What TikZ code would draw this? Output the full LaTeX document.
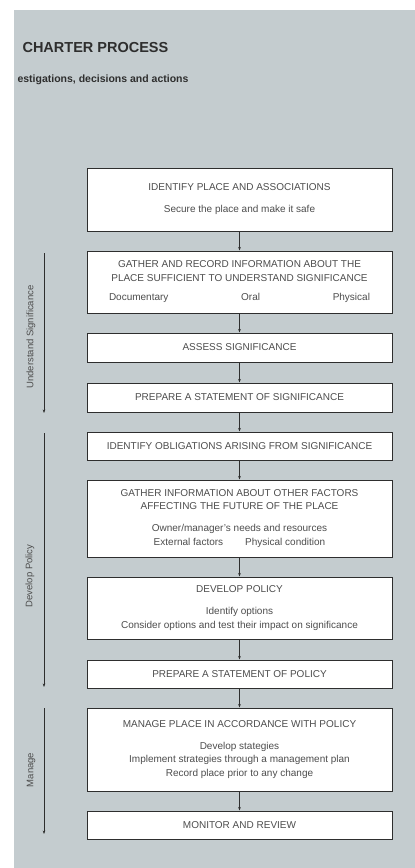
\documentclass[tikz,border=0pt]{standalone}
\usepackage{fontspec}
\setmainfont{Liberation Sans}
\usepackage{xcolor}
\definecolor{paper}{rgb}{0.77,0.80,0.81}
\definecolor{ink}{rgb}{0.18,0.18,0.18}
\usetikzlibrary{arrows.meta}
\usetikzlibrary{positioning}

\tikzset{
  stage/.style={draw=ink, line width=1pt, fill=white, text=ink!85,
    minimum width=305pt, align=center, inner sep=0pt,
    font=\fontsize{10}{13.5}\selectfont},
  flow/.style={draw=ink, line width=0.9pt, -{Stealth[length=3.5pt,width=2.6pt]}},
  phase/.style={draw=ink, line width=0.8pt, -{Stealth[length=3.5pt,width=2.6pt]}},
  phaselabel/.style={rotate=90, text=ink!85, font=\fontsize{9.5}{11}\selectfont}
}

\begin{document}
\begin{tikzpicture}[x=1pt,y=-1pt]

  \useasboundingbox (0,0) rectangle (415,868);
  \fill[white] (0,0) rectangle (415,868);
  \fill[paper] (14,10) rectangle (415,868);

% title
  \node[anchor=west, text=ink, font=\bfseries\fontsize{14.5}{16}\selectfont] (title) at (19,48) {CHARTER PROCESS};
  \node[anchor=west, text=ink, font=\bfseries\fontsize{10.5}{12}\selectfont] (subtitle) at (14,80) {estigations, decisions and actions};

% stages
  \node[stage, minimum height=63pt] (identify) at (239.5,199.5)
    {IDENTIFY PLACE AND ASSOCIATIONS\\[8.5pt] Secure the place and make it safe};
  \node[stage, minimum height=62pt] (gather) at (239.5,282)
    {GATHER AND RECORD INFORMATION ABOUT THE\\ PLACE SUFFICIENT TO UNDERSTAND SIGNIFICANCE\\[6pt]
     \makebox[261pt]{Documentary\hfill Oral\hfill Physical}};
  \node[stage, minimum height=29pt] (assess) at (239.5,347.5) {ASSESS SIGNIFICANCE};
  \node[stage, minimum height=29pt] (sigstatement) at (239.5,397.5) {PREPARE A STATEMENT OF SIGNIFICANCE};
  \node[stage, minimum height=28pt] (obligations) at (239.5,446) {IDENTIFY OBLIGATIONS ARISING FROM SIGNIFICANCE};
  \node[stage, minimum height=77pt] (factors) at (239.5,518.5)
    {GATHER INFORMATION ABOUT OTHER FACTORS\\ AFFECTING THE FUTURE OF THE PLACE\\[8.5pt]
     Owner/manager's needs and resources\\ External factors\hspace{2.2em}Physical condition};
  \node[stage, minimum height=62pt] (policy) at (239.5,608)
    {DEVELOP POLICY\\[8.5pt] Identify options\\ Consider options and test their impact on significance};
  \node[stage, minimum height=28pt] (polstatement) at (239.5,674) {PREPARE A STATEMENT OF POLICY};
  \node[stage, minimum height=83pt] (manage) at (239.5,749.5)
    {MANAGE PLACE IN ACCORDANCE WITH POLICY\\[8.5pt] Develop stategies\\
     Implement strategies through a management plan\\ Record place prior to any change};
  \node[stage, minimum height=28pt] (monitor) at (239.5,825) {MONITOR AND REVIEW};

% connectors
  \draw[flow] (identify) -- (gather);
  \draw[flow] (gather) -- (assess);
  \draw[flow] (assess) -- (sigstatement);
  \draw[flow] (sigstatement) -- (obligations);
  \draw[flow] (obligations) -- (factors);
  \draw[flow] (factors) -- (policy);
  \draw[flow] (policy) -- (polstatement);
  \draw[flow] (polstatement) -- (manage);
  \draw[flow] (manage) -- (monitor);

% phases
  \coordinate (understand top) at (44,253);
  \coordinate (understand end) at (44,413);
  \coordinate (develop top) at (44,433);
  \coordinate (develop end) at (44,687);
  \coordinate (manage top) at (44,708);
  \coordinate (manage end) at (44,834);
  \draw[phase] (understand top) -- (understand end);
  \draw[phase] (develop top) -- (develop end);
  \draw[phase] (manage top) -- (manage end);
  \node[phaselabel] (understandlabel) at (31,337) {Understand Significance};
  \node[phaselabel] (developlabel) at (30,576) {Develop Policy};
  \node[phaselabel] (managelabel) at (31,770) {Manage};

\end{tikzpicture}
\end{document}
